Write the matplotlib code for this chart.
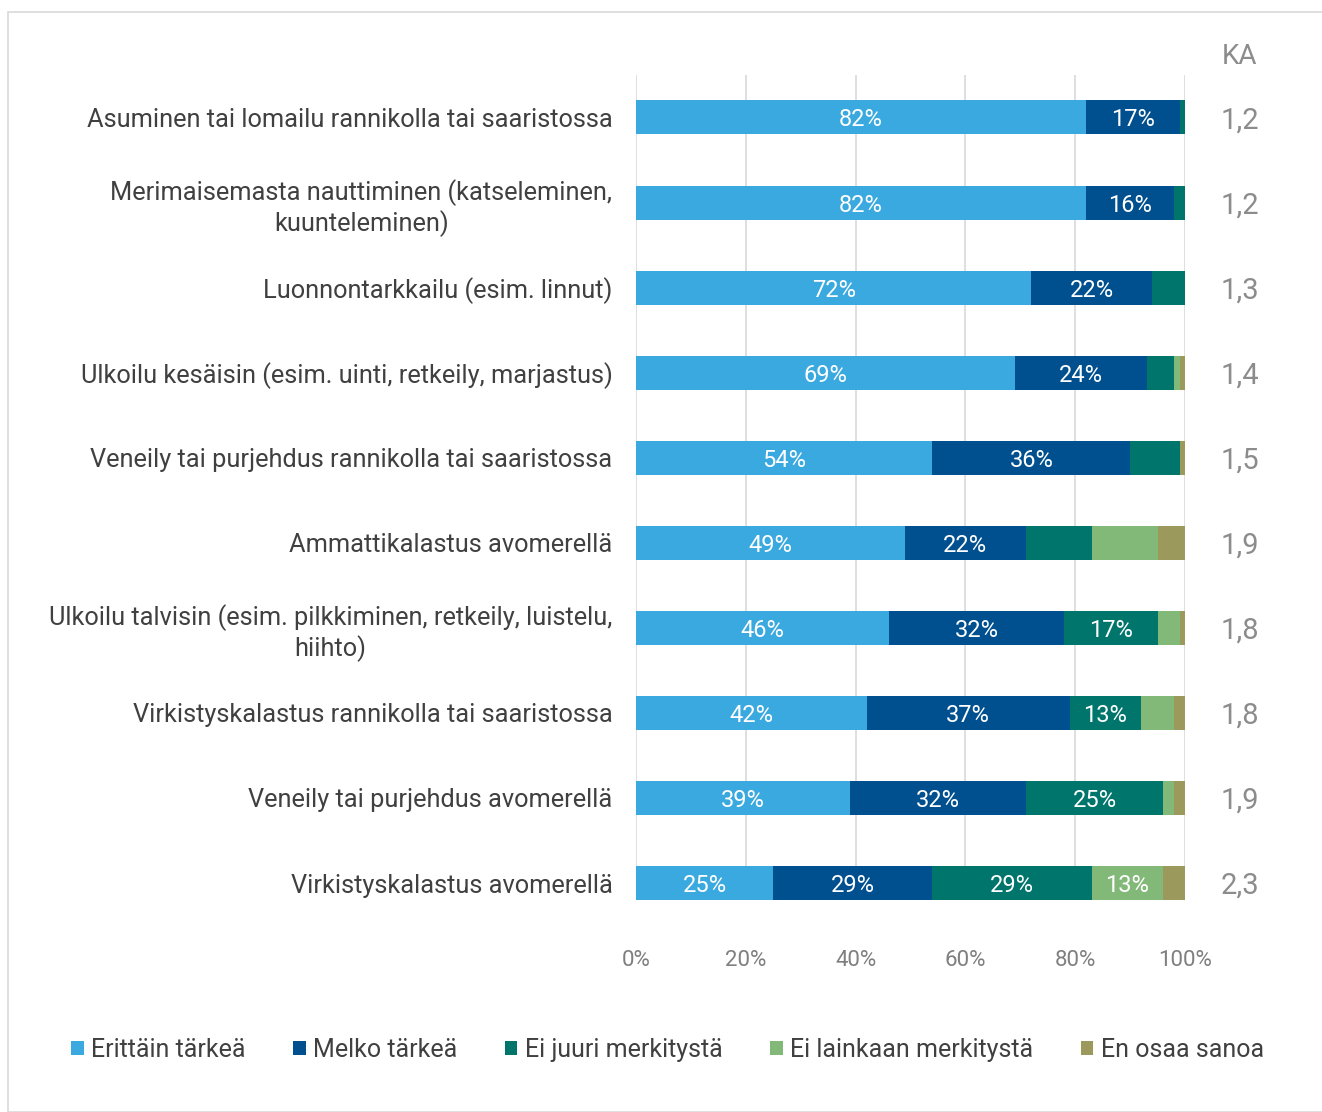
import matplotlib
import matplotlib.pyplot as plt
import numpy as np
from matplotlib.patches import Rectangle

matplotlib.use('agg')

categories = [
    "Asuminen tai lomailu rannikolla tai saaristossa",
    "Merimaisemasta nauttiminen (katseleminen,\nkuunteleminen)",
    "Luonnontarkkailu (esim. linnut)",
    "Ulkoilu kesäisin (esim. uinti, retkeily, marjastus)",
    "Veneily tai purjehdus rannikolla tai saaristossa",
    "Ammattikalastus avomerellä",
    "Ulkoilu talvisin (esim. pilkkiminen, retkeily, luistelu,\nhiihto)",
    "Virkistyskalastus rannikolla tai saaristossa",
    "Veneily tai purjehdus avomerellä",
    "Virkistyskalastus avomerellä",
]
series_names = ["Erittäin tärkeä", "Melko tärkeä", "Ei juuri merkitystä",
                "Ei lainkaan merkitystä", "En osaa sanoa"]
erittain = [82, 82, 72, 69, 54, 49, 46, 42, 39, 25]
melko = [17, 16, 22, 24, 36, 22, 32, 37, 32, 29]
ei_juuri = [1, 2, 6, 5, 9, 12, 17, 13, 25, 29]
ei_lainkaan = [0, 0, 0, 1, 0, 12, 4, 6, 2, 13]
en_osaa = [0, 0, 0, 1, 1, 5, 1, 2, 2, 4]
ka = ["1,2", "1,2", "1,3", "1,4", "1,5", "1,9", "1,8", "1,8", "1,9", "2,3"]
colors = ['#3aa9e0', '#00508f', '#00756b', '#82b878', '#9b995b']

plt.rcParams['font.family'] = ['Roboto', 'DejaVu Sans']

fig = plt.figure(figsize=(13.22, 11.12), dpi=100)
ax = fig.add_axes([0.4811, 0.1906, 0.4153, 0.7420])

y = np.arange(len(categories))
data = [erittain, melko, ei_juuri, ei_lainkaan, en_osaa]
left = np.zeros(len(categories))
for name, vals, col in zip(series_names, data, colors):
    vals = np.array(vals, dtype=float)
    ax.barh(y, vals, left=left, height=0.4, color=col, label=name, zorder=3)
    for yi, l, v in zip(y, left, vals):
        if v >= 13:
            ax.text(l + v / 2, yi, f"{int(v)}%", ha='center', va='center_baseline',
                    color='white', fontsize=17, zorder=4)
    left += vals

ax.set_xlim(0, 100)
ax.set_ylim(len(categories) - 1 + 0.2, -0.5)
ax.set_xticks(range(0, 101, 20))
ax.set_xticklabels([f"{t}%" for t in range(0, 101, 20)])
ax.set_yticks(y)
ax.set_yticklabels(categories, multialignment='center')
ax.tick_params(axis='y', length=0, pad=17, labelsize=18.3, labelcolor='#404040')
ax.tick_params(axis='x', length=0, pad=36, labelsize=16, labelcolor='#7f7f7f')
ax.grid(axis='x', color='#d9d9d9', linewidth=1.2, zorder=0)
for s in ax.spines.values():
    s.set_visible(False)

# average column
trans = ax.get_yaxis_transform()
ax.text(1.10, -0.72, "KA", transform=trans, ha='center', va='center',
        fontsize=20, color='#8c8c8c')
for yi, k in zip(y, ka):
    ax.text(1.10, yi, k, transform=trans, ha='center', va='center_baseline',
            fontsize=21, color='#8c8c8c')

fig.legend(loc='center', bbox_to_anchor=(0.505, 0.056), ncol=5, frameon=False,
           fontsize=18, handlelength=0.5, handleheight=0.5, handletextpad=0.3,
           columnspacing=1.9, labelcolor='#404040')

fig.patches.append(Rectangle((8 / 1322, 0), 1.0, 1 - 12 / 1112,
                             transform=fig.transFigure, fill=False,
                             edgecolor='#d9d9d9', linewidth=1.2))

fig.savefig('out.png', dpi=100)
plt.close()
